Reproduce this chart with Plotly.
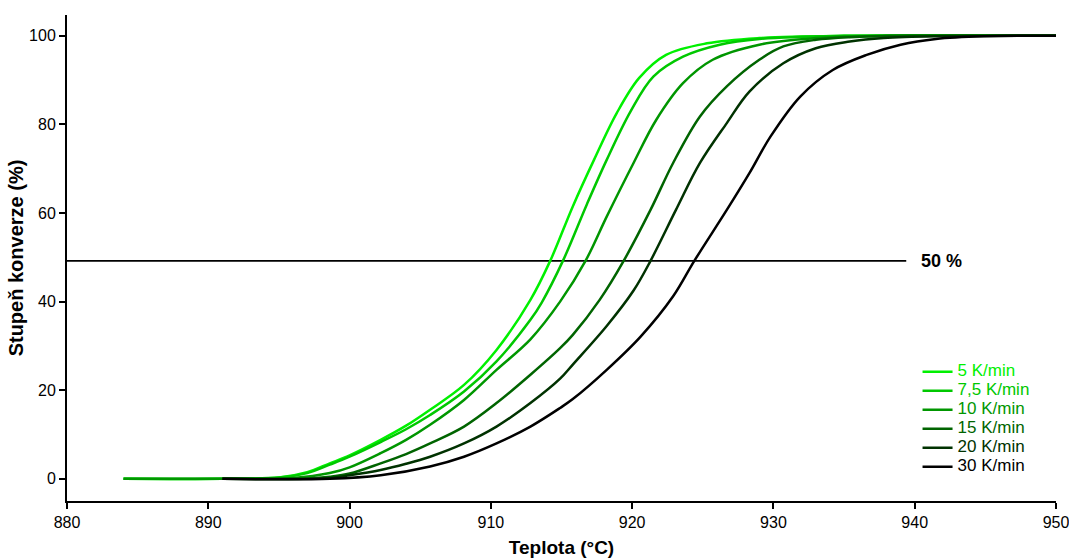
import plotly.graph_objects as go

# ---- data ----
labels = ["5 K/min", "7,5 K/min", "10 K/min", "15 K/min", "20 K/min", "30 K/min"]
colors = ["#00F000", "#00C800", "#009600", "#006400", "#003200", "#000000"]

t_5 = [884, 891, 895, 897, 898.6, 900, 902.2, 904, 905.7, 908.1, 910.4, 912.8, 914.2, 915.8, 917.3, 918.9, 920.5, 922.4, 925.3, 929, 935, 950]
y_5 = [0, 0, 0.3, 1.5, 3.5, 5.3, 8.8, 12, 15.6, 21.2, 29.1, 40.4, 49.2, 61.5, 72, 82.5, 90.5, 95.7, 98.3, 99.5, 100, 100]

t_75 = [884, 891, 895, 897, 898.6, 900, 902.2, 904, 905.7, 908.1, 910.4, 912.8, 913.6, 915.1, 916.8, 918.2, 919.9, 921.5, 923.6, 926.2, 929, 935, 950]
y_75 = [0, 0, 0.3, 1.3, 3.2, 5, 8.3, 11.2, 14.4, 19.7, 26.5, 35.9, 39.8, 49.2, 62, 72, 83, 90.8, 95.3, 98, 99.3, 100, 100]

t_10 = [884, 891, 896, 898.6, 900, 902.2, 904, 905.7, 908.1, 910.4, 912.8, 914.9, 916.7, 918.2, 920.1, 921.7, 923.6, 925.7, 929, 933, 938, 950]
y_10 = [0, 0, 0.2, 1.3, 2.6, 5.8, 8.8, 12.2, 17.8, 24.6, 31.5, 40.0, 49.2, 59.2, 71.3, 81, 89.3, 94.6, 98, 99.5, 100, 100]

t_15 = [891, 897, 898.6, 900, 902.2, 904, 905.7, 908.1, 910.4, 912.8, 914.9, 915.8, 917.7, 919.4, 921.3, 922.9, 924.8, 926.7, 929, 930.7, 933, 935.4, 940, 950]
y_15 = [0, 0.1, 0.5, 1.2, 3.5, 5.6, 8, 11.8, 17.1, 23.5, 29.5, 32.5, 40.4, 49.2, 60.7, 71.3, 81.8, 88.6, 94.6, 97.6, 99.1, 99.7, 100, 100]

t_20 = [891, 898.6, 900, 902.2, 904, 905.7, 908.1, 910.4, 912.8, 914.9, 915.8, 918.2, 920.1, 921.3, 923.1, 924.8, 926.7, 928.3, 930.7, 933, 935.4, 937.8, 941.5, 950]
y_20 = [0, 0.2, 0.8, 2, 3.4, 5, 8, 11.8, 17.1, 22.6, 25.8, 34.5, 42.5, 49.2, 60.7, 71.3, 80.3, 87.4, 93.8, 97.2, 98.7, 99.5, 99.9, 100]

t_30 = [891, 898.6, 902.2, 905.7, 908.1, 910.4, 912.8, 914.9, 915.8, 918.2, 920.6, 922.9, 924.4, 926.7, 928.3, 929.8, 931.9, 934.2, 936.6, 939, 941.5, 944.9, 950]
y_30 = [0, 0, 0.8, 2.8, 5, 8, 11.8, 16, 18.0, 24.6, 32.1, 41.2, 49.2, 60.7, 69, 77.3, 86.3, 92.3, 95.7, 98, 99.3, 99.9, 100]

ref_x = [880, 939.4]
ref_y = [49.2, 49.2]
ref_label = "50 %"

x_ticks = [880, 890, 900, 910, 920, 930, 940, 950]
y_ticks = [0, 20, 40, 60, 80, 100]

series = [(t_5, y_5), (t_75, y_75), (t_10, y_10), (t_15, y_15), (t_20, y_20), (t_30, y_30)]

FONT = "Arial, Liberation Sans, sans-serif"

fig = go.Figure()
fig.add_trace(go.Scatter(x=ref_x, y=ref_y, mode="lines",
                         line=dict(color="black", width=1.6), showlegend=False, hoverinfo="skip"))
for (tx, ty), lab, col in zip(series, labels, colors):
    fig.add_trace(go.Scatter(
        x=tx, y=ty, mode="lines",
        line=dict(color=col, width=2.5, shape="spline", smoothing=1.0),
        name=f'<span style="color:{col};font-size:17px">{lab}</span>'))

fig.add_annotation(x=940.3, y=49.2, text="<b>" + ref_label + "</b>", showarrow=False,
                   xanchor="left", yanchor="middle",
                   font=dict(size=18, color="black", family=FONT))

axis_common = dict(showline=True, linecolor="black", linewidth=2, showgrid=False,
                   zeroline=False, ticks="outside", ticklen=6, tickwidth=1.6,
                   tickcolor="black", mirror=False, automargin=False,
                   ticklabeloverflow="allow",
                   tickfont=dict(size=16, color="black", family=FONT))

fig.update_layout(
    width=1069, height=558,
    margin=dict(l=67, r=13, t=15, b=57),
    paper_bgcolor="white", plot_bgcolor="white",
    font=dict(family=FONT, color="black"),
    xaxis=dict(range=[880, 950], tickvals=x_ticks,
               title=dict(text="<b>Teplota (°C)</b>", font=dict(size=19), standoff=10),
               **axis_common),
    yaxis=dict(range=[-5, 104.7], tickvals=y_ticks,
               title=dict(text="<b>Stupeň konverze (%)</b>", font=dict(size=20), standoff=0),
               **axis_common),
    legend=dict(x=0.860, y=0.296, xanchor="left", yanchor="top",
                bgcolor="rgba(0,0,0,0)", font=dict(size=12, family=FONT),
                tracegroupgap=0, itemwidth=30),
)

fig.write_html(
    "out.html",
    config={"displayModeBar": False},
    post_script="document.body.style.margin='0';document.body.style.overflow='hidden';",
)
